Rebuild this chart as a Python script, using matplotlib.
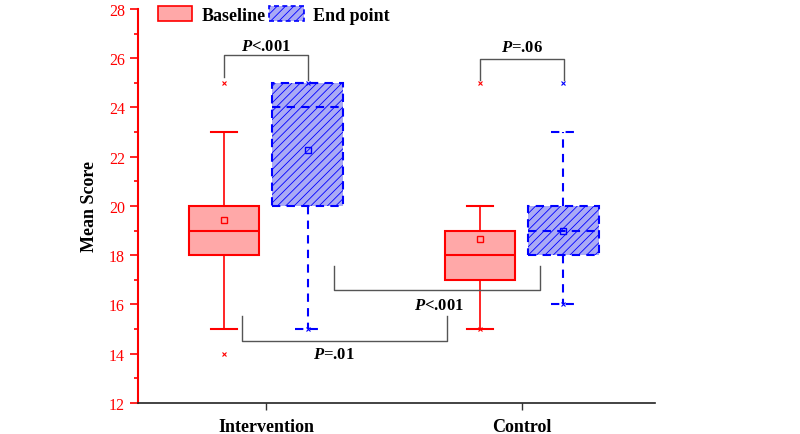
import matplotlib
matplotlib.use("Agg")
import matplotlib.pyplot as plt
from matplotlib.patches import Patch

plt.rcParams['font.family'] = ['Liberation Serif', 'DejaVu Serif']
plt.rcParams['mathtext.fontset'] = 'custom'
plt.rcParams['mathtext.it'] = 'Liberation Serif:italic:bold'
plt.rcParams['mathtext.rm'] = 'Liberation Serif:bold'
plt.rcParams['hatch.linewidth'] = 0.6

# ---- data ----
categories = ["Intervention", "Control"]
series = ["Baseline", "End point"]
# box stats per series: [Intervention, Control]
base_whislo = [15, 15]
base_q1 = [18, 17]
base_med = [19, 18]
base_q3 = [20, 19]
base_whishi = [23, 20]
base_mean = [19.44, 18.67]
base_min = [14, 15]
base_max = [25, 25]

end_whislo = [15, 16]
end_q1 = [20, 18]
end_med = [24, 19]
end_q3 = [25, 20]
end_whishi = [25, 23]
end_mean = [22.28, 19.0]
end_min = [15, 16]
end_max = [25, 25]

p_labels = [r"$P$<.001", r"$P$=.06", r"$P$=.01", r"$P$<.001"]
yticks = [12, 14, 16, 18, 20, 22, 24, 26, 28]

# ---- figure ----
fig = plt.figure(figsize=(8, 4.35), dpi=100)
ax = fig.add_axes([0.1725, 0.0713, 0.646, 0.906])

red = '#ff0000'
blue = '#0000ff'
off = 0.163
width = 0.275
pos = [1, 2]

def stats(wl, q1, med, q3, wh, mean):
    return [dict(whislo=wl[i], q1=q1[i], med=med[i], q3=q3[i], whishi=wh[i],
                 mean=mean[i], fliers=[]) for i in range(len(wl))]

bs = stats(base_whislo, base_q1, base_med, base_q3, base_whishi, base_mean)
es = stats(end_whislo, end_q1, end_med, end_q3, end_whishi, end_mean)

bp1 = ax.bxp(bs, positions=[p - off for p in pos], widths=width, patch_artist=True,
             showmeans=True, showfliers=False, capwidths=0.1,
             boxprops=dict(facecolor='#ffa8a8', edgecolor=red, linewidth=1.5),
             medianprops=dict(color=red, linewidth=1.5),
             whiskerprops=dict(color=red, linewidth=1.2),
             capprops=dict(color=red, linewidth=1.5),
             meanprops=dict(marker='s', markerfacecolor='none', markeredgecolor=red,
                            markersize=4, markeredgewidth=1.0))
dash = (0, (4, 3))
bp2 = ax.bxp(es, positions=[p + off for p in pos], widths=width, patch_artist=True,
             showmeans=True, showfliers=False, capwidths=0.1,
             boxprops=dict(facecolor='#aaaaf5', edgecolor=blue, linewidth=1.5,
                           linestyle=dash, hatch='////'),
             medianprops=dict(color=blue, linewidth=1.5, linestyle=dash),
             whiskerprops=dict(color=blue, linewidth=1.5, linestyle=dash),
             capprops=dict(color=blue, linewidth=1.5, linestyle=dash),
             meanprops=dict(marker='s', markerfacecolor='none', markeredgecolor=blue,
                            markersize=4, markeredgewidth=1.0))

# min / max crosses
ax.plot([p - off for p in pos], base_min, 'x', color=red, ms=3.5, mew=0.8, ls='none')
ax.plot([p - off for p in pos], base_max, 'x', color=red, ms=3.5, mew=0.8, ls='none')
ax.plot([p + off for p in pos], end_min, 'x', color=blue, ms=3.5, mew=0.8, ls='none')
ax.plot([p + off for p in pos], end_max, 'x', color=blue, ms=3.5, mew=0.8, ls='none')

# significance brackets: (x1, x2, y_bar, y1_end, y2_end, text_x, text_y)
brackets = [
    (0.837, 1.163, 26.12, 25.25, 25.1, 1.0, 26.5),
    (1.837, 2.167, 25.95, 25.1, 25.1, 2.0, 26.47),
    (0.907, 1.709, 14.52, 15.54, 15.54, 1.264, 13.99),
    (1.267, 2.070, 16.60, 17.57, 17.57, 1.678, 15.98),
]
for (x1, x2, yb, ya, yc, tx, ty), lab in zip(brackets, p_labels):
    ax.plot([x1, x1, x2, x2], [ya, yb, yb, yc], color='#555555', lw=1.0)
    ax.text(tx, ty, lab, ha='center', va='center', fontsize=12, fontweight='bold')

ax.set_xlim(0.5, 2.52)
ax.set_ylim(12, 28)
ax.set_xticks(pos)
ax.set_xticklabels(categories, fontsize=13, fontweight='bold')
ax.set_yticks(yticks)
ax.set_yticks(range(13, 28, 2), minor=True)
ax.tick_params(axis='y', colors=red, labelsize=11.5, length=6, width=1.2, which='major')
ax.tick_params(axis='y', colors=red, length=3, width=1.2, which='minor')
ax.tick_params(axis='x', length=5, width=1.0, colors='#333333', labelcolor='black', pad=6)
ax.spines['left'].set_color(red)
ax.spines['left'].set_linewidth(1.5)
ax.spines['bottom'].set_color('#222222')
ax.spines['bottom'].set_linewidth(1.2)
ax.spines['top'].set_visible(False)
ax.spines['right'].set_visible(False)
ax.set_ylabel("Mean Score", fontsize=13, fontweight='bold', labelpad=8)

handles = [Patch(facecolor='#ffa8a8', edgecolor=red, linewidth=1.2, label=series[0]),
           Patch(facecolor='#aaaaf5', edgecolor=blue, linewidth=1.2, linestyle=(0, (3, 2)),
                 hatch='////', label=series[1])]
leg = ax.legend(handles=handles, loc='upper left', bbox_to_anchor=(0.025, 1.025), ncol=2,
                frameon=False, prop=dict(family='Liberation Serif', weight='bold', size=13),
                handlelength=1.9, handleheight=0.9, handletextpad=0.5, columnspacing=0.2,
                borderaxespad=0)

fig.savefig("out.png", dpi=100)
